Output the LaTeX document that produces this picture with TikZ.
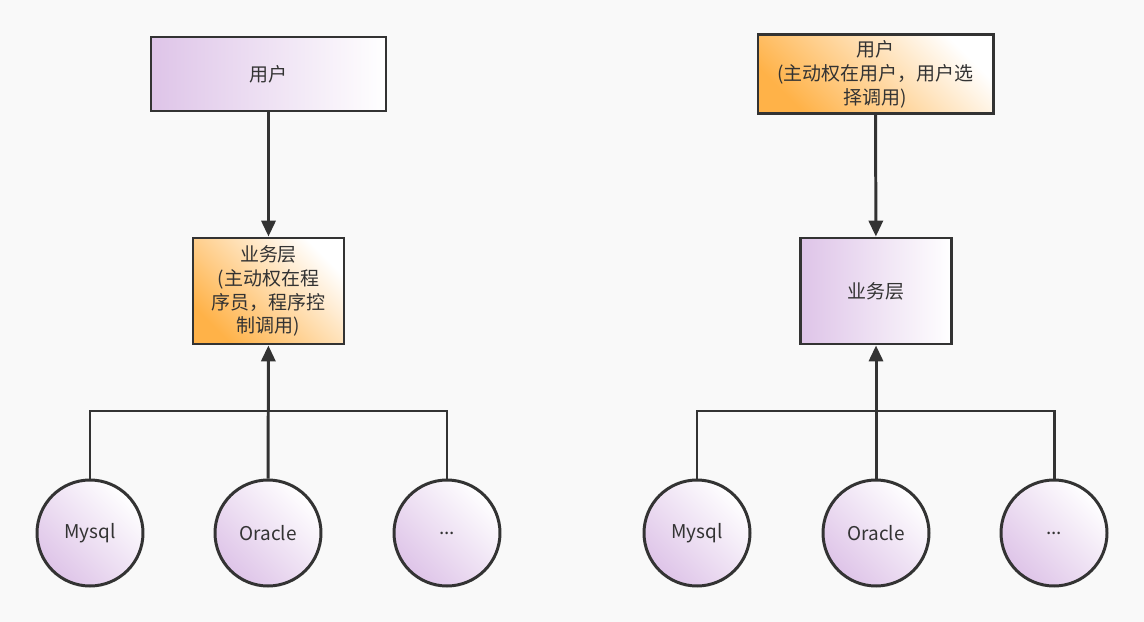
\documentclass[tikz,border=0pt]{standalone}
\usepackage{fontspec}
\setmainfont{Noto Sans CJK SC}
\usetikzlibrary{positioning,arrows.meta}
\definecolor{ink}{HTML}{333333}
\definecolor{lilac}{RGB}{222,196,232}
\definecolor{amber}{RGB}{255,178,72}
\definecolor{paper}{HTML}{F9F9F9}
\tikzset{
  box/.style={rectangle,draw=ink,line width=1.7pt,text=ink,align=center,
    font=\fontsize{10.8}{13.6}\selectfont},
  userbox/.style={box,minimum width=4.7cm,minimum height=1.48cm},
  bizbox/.style={box,minimum width=3.02cm,minimum height=2.12cm},
  plain/.style={left color=lilac,right color=white},
  active/.style={bottom color=amber,top color=white,shading angle=-45},
  db/.style={circle,draw=ink,line width=1.7pt,text=ink,minimum size=2.12cm,
    bottom color=lilac,top color=white,shading angle=-45,
    font=\fontsize{10.8}{13.6}\selectfont},
}
\begin{document}
\begin{tikzpicture}[>={Triangle[length=9pt,width=8pt]},line width=1.7pt,draw=ink]
    \fill[paper] (0,0) rectangle (22.88,-12.44);
    \useasboundingbox (0,0) rectangle (22.88,-12.44);
    % left: programmer decides
    \node[userbox,plain] (userA) at (5.37,-1.48) {用户};
    \node[bizbox,active] (bizA) at (5.37,-5.82) {业务层\\(主动权在程\\序员，程序控\\制调用)};
    \node[db] (mysqlA) at (1.80,-10.66) {Mysql};
    \node[db] (oracleA) at (5.36,-10.66) {Oracle};
    \node[db] (moreA) at (8.94,-10.66) {...};
    \coordinate (busA) at (5.36,-8.22);
    % right: user decides
    \node[userbox,active] (userB) at (17.51,-1.48) {用户\\(主动权在用户，用户选\\择调用)};
    \node[bizbox,plain] (bizB) at (17.52,-5.82) {业务层};
    \node[db] (mysqlB) at (13.94,-10.66) {Mysql};
    \node[db] (oracleB) at (17.52,-10.66) {Oracle};
    \node[db] (moreB) at (21.08,-10.66) {...};
    \coordinate (busB) at (17.52,-8.22);
    % arrows
    \draw[->,ink] (userA) -- (bizA);
    \draw[->,ink] (oracleA) -- (bizA);
    \draw[ink] (mysqlA) |- (busA) -| (moreA);
    \draw[->,ink] (userB) -- (bizB);
    \draw[->,ink] (oracleB) -- (bizB);
    \draw[ink] (mysqlB) |- (busB) -| (moreB);
\end{tikzpicture}
\end{document}
